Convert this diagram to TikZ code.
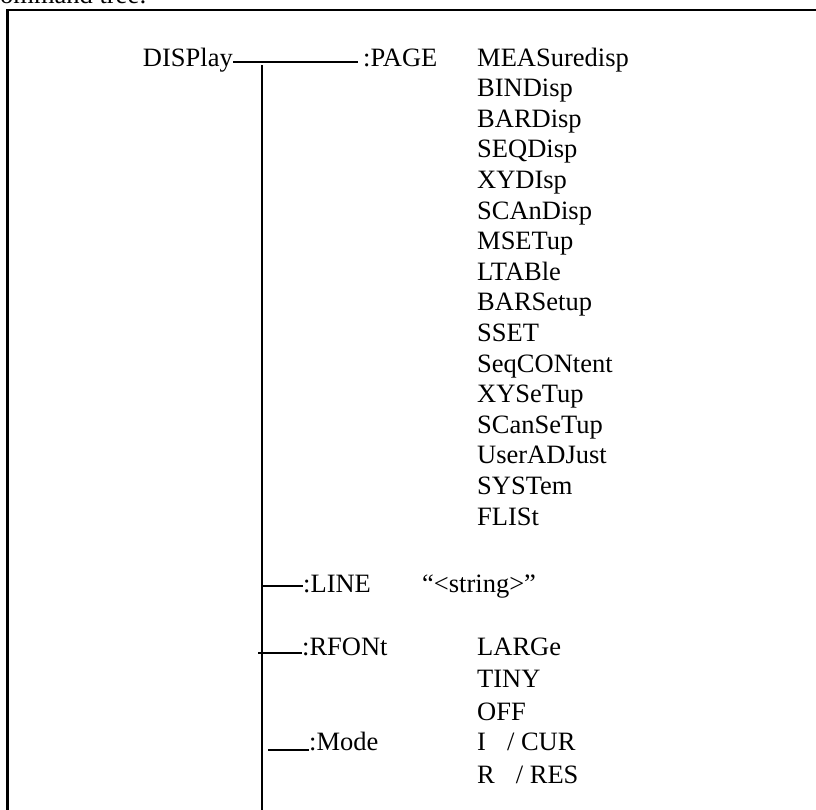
\documentclass[tikz,border=0pt]{standalone}
\usepackage{fontspec}
\setmainfont{Liberation Serif}
\usepackage{tikz}
\usetikzlibrary{positioning, calc}
\tikzset{
  cmd/.style={inner sep=0pt, anchor=base west, font=\fontsize{26.5}{30}\selectfont},
  tree/.style={line width=1.7pt, color=black},
  frame/.style={line width=2.2pt, color=black}
}

\begin{document}
\begin{tikzpicture}[x=1pt, y=-1pt]
  \useasboundingbox (0,0) rectangle (816,809);

  % Caption, cut by the page edge
  \node[cmd] (caption) at (-17.7, 3) {Command tree:};

  % Outer frame
  \draw[frame] (7.5, 10) rectangle (840, 840);

  % Root
  \node[cmd, anchor=base east] (disp) at (233, 66) {DISPlay};
  \node[cmd] (page) at (363, 66) {:PAGE};

  % PAGE parameters
  \foreach \pgname [count=\i from 0] in {MEASuredisp, BINDisp, BARDisp, SEQDisp,
      XYDIsp, SCAnDisp, MSETup, LTABle, BARSetup, SSET, SeqCONtent, XYSeTup,
      SCanSeTup, UserADJust, SYSTem, FLISt}
    \node[cmd] (pg\i) at (477, 66+30.6*\i) {\pgname};

  % Other branches
  \node[cmd] (linecmd) at (303, 592) {:LINE};
  \node[cmd] (linearg) at (422, 592) {“<string>”};

  \node[cmd] (rfont) at (302, 655) {:RFONt};
  \node[cmd] (rf1) at (477, 655) {LARGe};
  \node[cmd] (rf2) at (477, 687) {TINY};
  \node[cmd] (rf3) at (477, 720) {OFF};

  \node[cmd] (mode) at (309, 750) {:Mode};
  \node[cmd] (md1) at (477, 750) {I\hspace{21pt}/ CUR};
  \node[cmd] (md2) at (477, 783) {R\hspace{21pt}/ RES};

  % Trunk and junctions
  \coordinate (trunktop) at (261.7, 65);
  \coordinate (trunkbot) at (261.7, 820);
  \coordinate (jline) at (261.7, 586);
  \coordinate (jrfont) at (258, 653);
  \coordinate (jmode) at (268, 750);

  % Connect lines
  \draw[tree] ([yshift=4.3pt]disp.base east) -- ([xshift=-5pt, yshift=4.3pt]page.base west);
  \draw[tree] (trunktop) -- (trunkbot);
  \draw[tree] (jline) -- ([yshift=6pt]linecmd.base west);
  \draw[tree] (jrfont) -- ([yshift=2pt]rfont.base west);
  \draw[tree] (jmode) -- (mode.base west);
\end{tikzpicture}
\end{document}
